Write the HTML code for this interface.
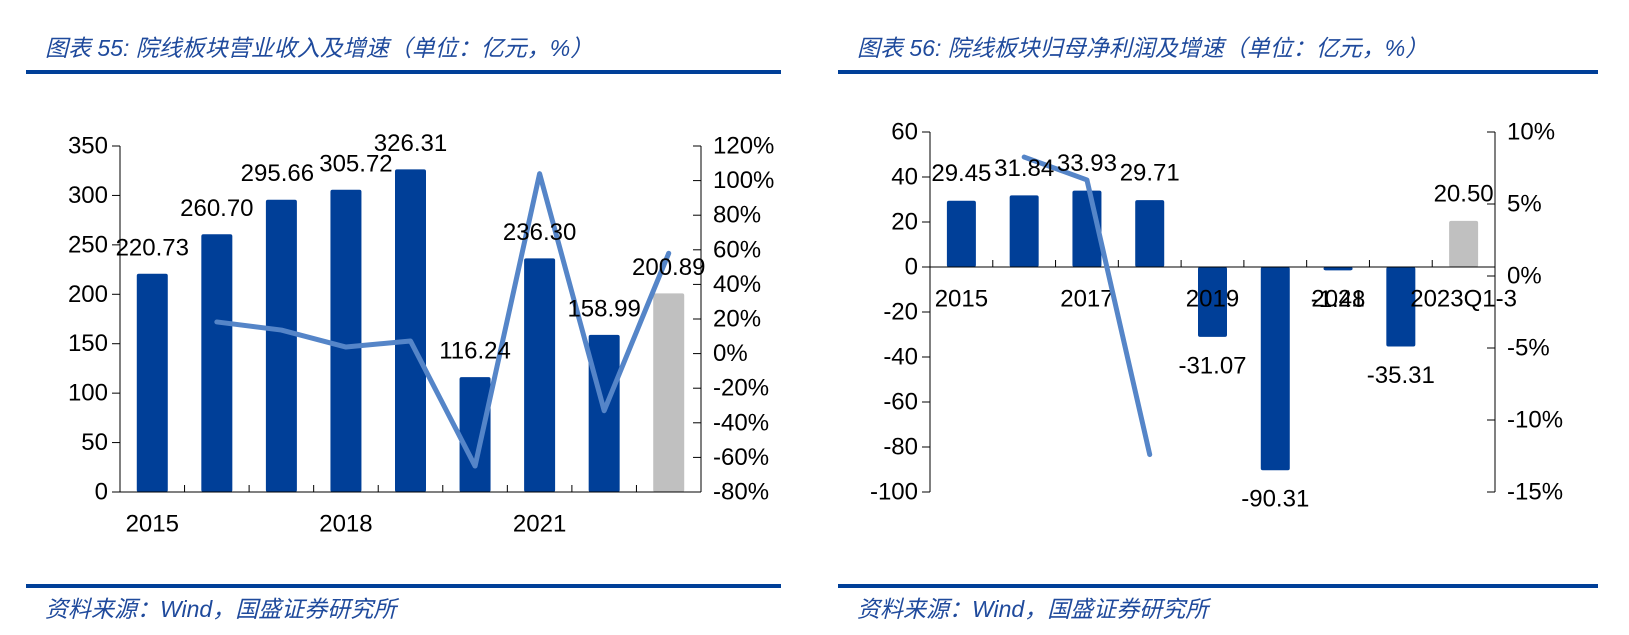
<!DOCTYPE html>
<html><head><meta charset="utf-8"><style>
body{margin:0;width:1629px;height:635px;background:#fff;overflow:hidden;font-family:"Liberation Sans","Noto Sans CJK SC",sans-serif}
.t{position:absolute;color:#1f4a9c;font-style:italic;font-size:23px;white-space:nowrap;font-family:"Liberation Sans","Noto Sans CJK SC",sans-serif}
.rule{position:absolute;height:4px;background:#003f98}
</style></head><body>
<div class="t" style="left:45px;top:29px">图表 55: 院线板块营业收入及增速（单位：亿元，%）</div>
<div class="rule" style="left:26px;top:70px;width:755px"></div>
<div class="rule" style="left:26px;top:584px;width:755px"></div>
<div class="t" style="left:45px;top:590px">资料来源：Wind，国盛证券研究所</div>
<div class="t" style="left:857px;top:29px">图表 56: 院线板块归母净利润及增速（单位：亿元，%）</div>
<div class="rule" style="left:838px;top:70px;width:760px"></div>
<div class="rule" style="left:838px;top:584px;width:760px"></div>
<div class="t" style="left:857px;top:590px">资料来源：Wind，国盛证券研究所</div>
<svg id="svg" width="1629" height="635" style="position:absolute;left:0;top:0"></svg>
<script>
const cats1=['2015','2016','2017','2018','2019','2020','2021','2022','2023Q1-3'];
const rev=[220.73,260.70,295.66,305.72,326.31,116.24,236.30,158.99,200.89];
const revLabels=['220.73','260.70','295.66','305.72','326.31','116.24','236.30','158.99','200.89'];
const revGrowth=[null,18.3,13.6,3.8,7.3,-65,104,-33,58];
const leftTicks=[0,50,100,150,200,250,300,350];
const rightTicks1=[-80,-60,-40,-20,0,20,40,60,80,100,120];
const xShow1=['2015','2018','2021'];

const cats2=['2015','2016','2017','2018','2019','2020','2021','2022','2023Q1-3'];
const profit=[29.45,31.84,33.93,29.71,-31.07,-90.31,-1.48,-35.31,20.50];
const profitLabels=['29.45','31.84','33.93','29.71','-31.07','-90.31','-1.48','-35.31','20.50'];
const profitGrowth=[null,8.26,6.67,-12.4,null,null,null,null,null];
const leftTicks2=[-100,-80,-60,-40,-20,0,20,40,60];
const rightTicks2=[-15,-10,-5,0,5,10];
const xShow2=['2015','2017','2019','2021','2023Q1-3'];

const svg=document.getElementById('svg');const NS='http://www.w3.org/2000/svg';
function mk(tag,at,txt){const e=document.createElementNS(NS,tag);for(const k in at)e.setAttribute(k,at[k]);if(txt!==undefined)e.textContent=txt;svg.appendChild(e);return e;}
function line(x1,y1,x2,y2){return mk('line',{x1,y1,x2,y2,stroke:'#000','stroke-width':1});}
function text(x,y,s,anchor){return mk('text',{x,y,'font-size':24,'text-anchor':anchor||'middle','dominant-baseline':'central',fill:'#000','font-family':'Liberation Sans, sans-serif'},s);}

function chart(o){
  const bw=(o.x1-o.x0)/o.cats.length;
  const yL=v=>o.yTop+(o.lmax-v)/(o.lmax-o.lmin)*(o.yBot-o.yTop);
  const yR=v=>o.yTop+(o.rmax-v)/(o.rmax-o.rmin)*(o.yBot-o.yTop);
  const xc=i=>o.x0+bw*(i+0.5);
  const base=yL(Math.max(o.lmin,0));
  o.vals.forEach((v,i)=>{
    const y=yL(v);const r=mk('rect',{x:xc(i)-o.barW/2,y:Math.min(y,base),width:o.barW,height:Math.abs(base-y),rx:2,fill:i===o.cats.length-1?'#c0c0c0':'#003f98'});
    
    
  });
  line(o.x0,o.yTop,o.x0,o.yBot);line(o.x1,o.yTop,o.x1,o.yBot);
  line(o.x0,base,o.x1,base);
  for(let i=1;i<o.cats.length;i++)line(o.x0+bw*i,base,o.x0+bw*i,base-7);
  o.lt.forEach(t=>{line(o.x0-8,yL(t),o.x0,yL(t));const e=text(o.x0-12,yL(t),String(t),'end');});
  o.rt.forEach(t=>{line(o.x1-8,yR(t),o.x1,yR(t));const e=text(o.x1+12,yR(t),t+'%','start');});
  o.cats.forEach((c,i)=>{if(o.xs.includes(c)){const e=text(xc(i),o.xLabY,c);}});
  let pts=[];o.g.forEach((v,i)=>{if(v!==null)pts.push(xc(i)+','+yR(v));});
  const p=mk('polyline',{points:pts.join(' '),fill:'none',stroke:'#5585c8','stroke-width':5,'stroke-linejoin':'round','stroke-linecap':'round'});
  
  
  o.vals.forEach((v,i)=>{const y=yL(v);const ly=v>=0?y-o.up:y+o.dn;const e=text(xc(i)+(o.dx?o.dx[i]:0),ly,o.labels[i]);});
}
chart({cats:cats1,vals:rev,labels:revLabels,g:revGrowth,x0:120,x1:701,yTop:146,yBot:492,lmin:0,lmax:350,rmin:-80,rmax:120,lt:leftTicks,rt:rightTicks1,xs:xShow1,xLabY:524,barW:31,up:26,dn:26,dx:[0,0,-4,10,0,0,0,0,0]});
chart({cats:cats2,vals:profit,labels:profitLabels,g:profitGrowth,x0:930,x1:1495,yTop:132,yBot:492,lmin:-100,lmax:60,rmin:-15,rmax:10,lt:leftTicks2,rt:rightTicks2,xs:xShow2,xLabY:299,barW:29,up:27,dn:29});
</script>
</body></html>
